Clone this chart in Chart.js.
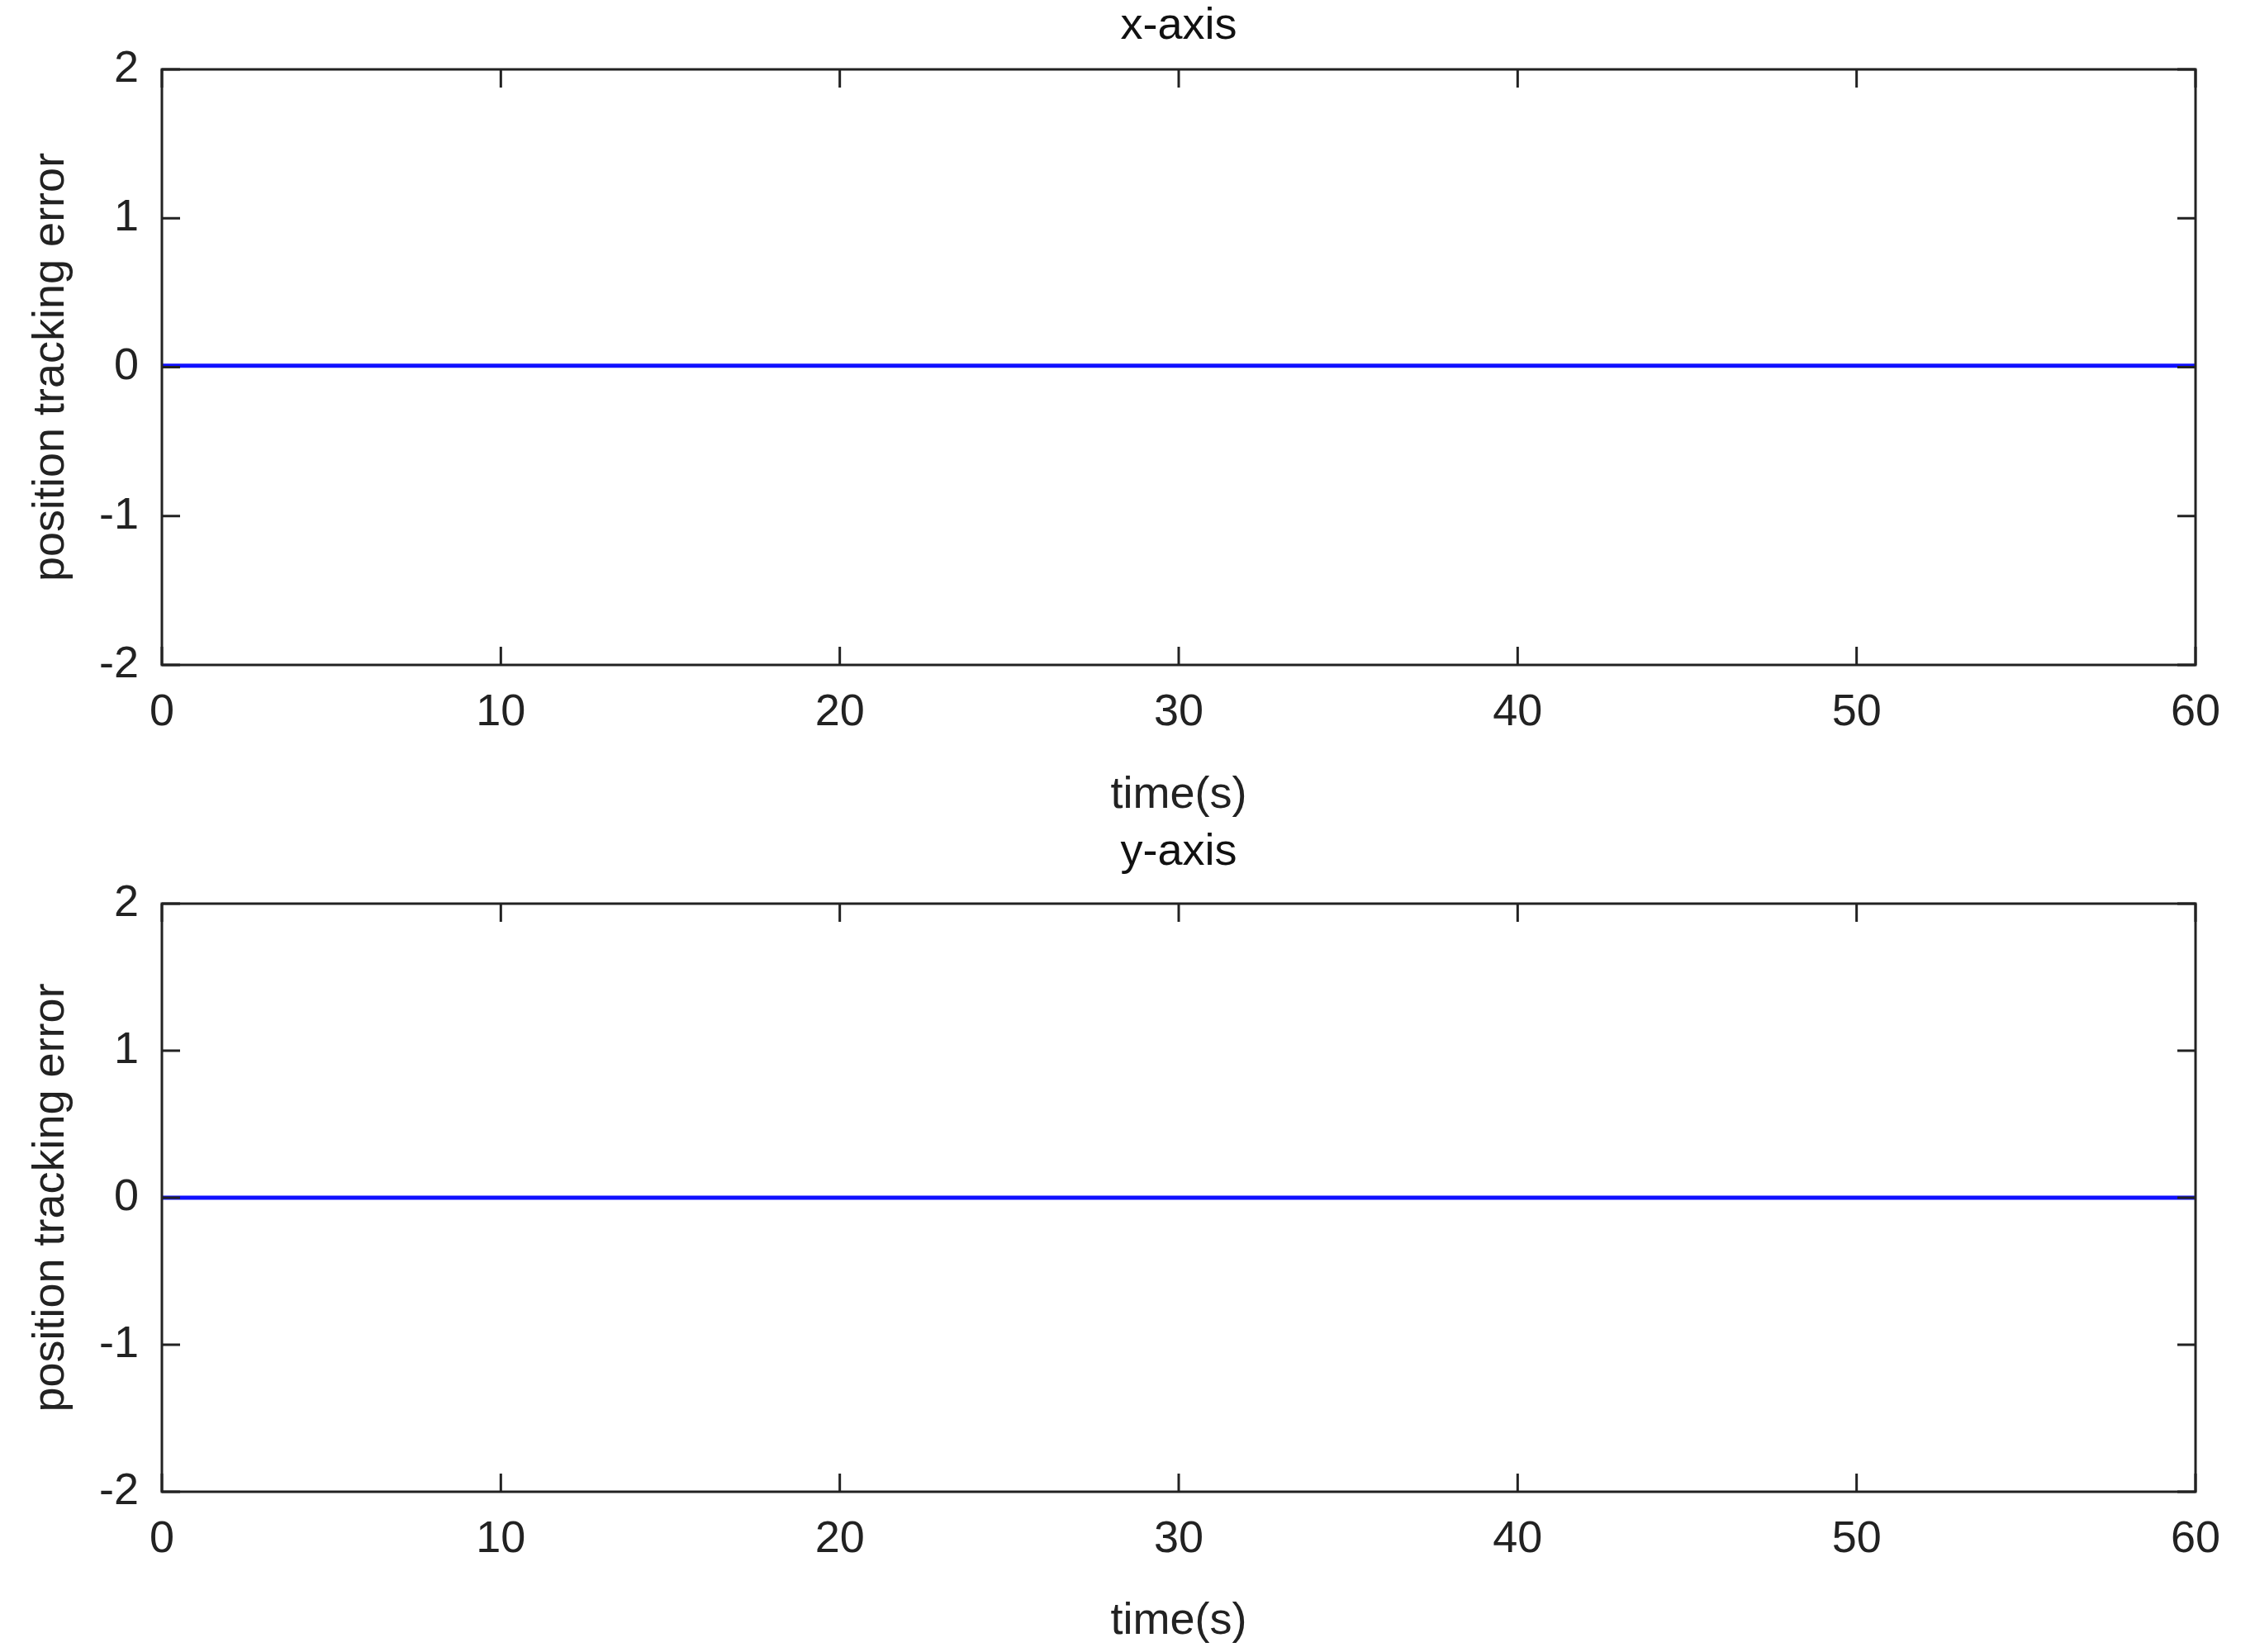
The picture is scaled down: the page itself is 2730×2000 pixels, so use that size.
<!DOCTYPE html>
<html><head><meta charset="utf-8">
<script src="https://cdn.jsdelivr.net/npm/chart.js@4"></script>
<style>body{margin:0;background:#fff}canvas{position:absolute;left:0}</style>
</head><body>
<div style="position:absolute;left:0;top:0;width:2730px;height:1000px"><canvas id="c1"></canvas></div>
<div style="position:absolute;left:0;top:1000px;width:2730px;height:1000px"><canvas id="c2"></canvas></div>
<script>
const timeS = [0,5,10,15,20,25,30,35,40,45,50,55,60];
const errX = [0.01,0.01,0.01,0.01,0.01,0.01,0.01,0.01,0.01,0.01,0.01,0.01,0.01];
const errY = [0,0,0,0,0,0,0,0,0,0,0,0,0];
const xTicks = [0,10,20,30,40,50,60];
const yTicks = [-2,-1,0,1,2];
const titles = ['x-axis','y-axis'];
const font = 'Liberation Sans';

const boxPlugin = {
  id:'box',
  afterDraw(ch){
    const {ctx, chartArea:a, scales:{x,y}} = ch;
    ctx.save(); ctx.strokeStyle='#222'; ctx.lineWidth=3;
    ctx.strokeRect(a.left,a.top,a.right-a.left,a.bottom-a.top);
    const L=22;
    xTicks.forEach(v=>{const p=x.getPixelForValue(v);
      ctx.beginPath();ctx.moveTo(p,a.bottom);ctx.lineTo(p,a.bottom-L);ctx.moveTo(p,a.top);ctx.lineTo(p,a.top+L);ctx.stroke();});
    yTicks.forEach(v=>{const p=y.getPixelForValue(v);
      ctx.beginPath();ctx.moveTo(a.left,p);ctx.lineTo(a.left+L,p);ctx.moveTo(a.right,p);ctx.lineTo(a.right-L,p);ctx.stroke();});
    ctx.restore();
  }
};

function make(id, data, title, top, bottom){
  new Chart(document.getElementById(id),{
    type:'line',
    data:{labels:timeS,datasets:[{data:data.map((v,i)=>({x:timeS[i],y:v})),borderColor:'#1010ff',borderWidth:5,pointRadius:0,tension:0}]},
    plugins:[boxPlugin],
    options:{
      responsive:true,maintainAspectRatio:false,animation:false,
      layout:{padding:{left:0,right:72,bottom:0,top:0}},
      plugins:{legend:{display:false},tooltip:{enabled:false},title:{display:false}},
      scales:{
        x:{type:'linear',min:0,max:60,
          afterBuildTicks:s=>{s.ticks=xTicks.map(v=>({value:v}));},
          afterFit:s=>{s.height=1000-bottom;},
          grid:{display:false},border:{display:false},
          ticks:{color:'#222',font:{family:font,size:54},padding:18},
          title:{display:true,text:'time(s)',color:'#222',font:{family:font,size:54},padding:{top:-14}}},
        xt:{type:'linear',position:'top',min:0,max:60,
          afterFit:s=>{s.height=top;},
          grid:{display:false},border:{display:false},
          ticks:{display:false},
          title:{display:true,text:title,color:'#111',font:{family:font,size:54},padding:{top:0,bottom:4}}},
        y:{min:-2,max:2,
          afterBuildTicks:s=>{s.ticks=yTicks.map(v=>({value:v}));},
          afterFit:s=>{s.width=196;},
          grid:{display:false},border:{display:false},
          ticks:{color:'#222',font:{family:font,size:54},padding:20},
          title:{display:true,text:'position tracking error',color:'#222',font:{family:font,size:54},padding:{top:30,bottom:4}}}
      }
    }
  });
}
make('c1',errX,titles[0],84,805);
make('c2',errY,titles[1],94,806);
</script>
</body></html>
